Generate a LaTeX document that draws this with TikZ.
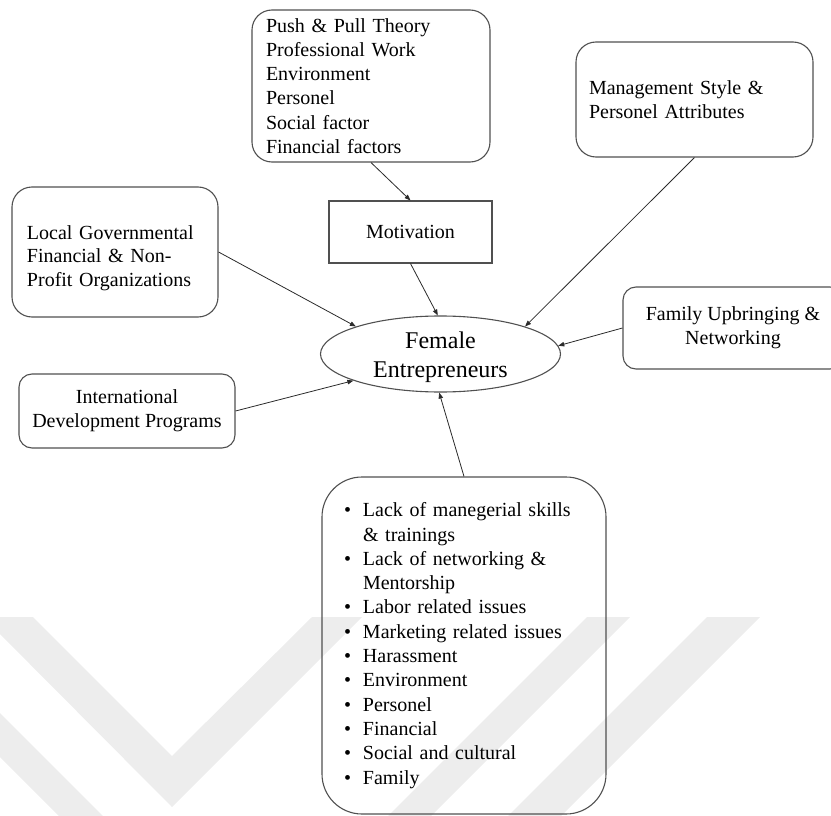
\documentclass[tikz,border=0pt]{standalone}
\usepackage{fontspec}
\setmainfont{Liberation Serif}
\usetikzlibrary{shapes.geometric,arrows.meta}
\definecolor{boxgrey}{HTML}{505050}
\definecolor{linkgrey}{HTML}{2A2A2A}
\definecolor{wmgrey}{HTML}{EDEDED}
\newcommand{\bulitem}{\makebox[19pt][l]{\textbullet}}
\newcommand{\contline}{\hspace*{19pt}}
\begin{document}
\begin{tikzpicture}[x=1pt,y=-1pt,
  roundbox/.style={draw=boxgrey, line width=1.1pt, rounded corners=#1,
    inner ysep=0pt, font=\fontsize{20}{24.3}\selectfont},
  plainbox/.style={draw=boxgrey, line width=1.1pt,
    font=\fontsize{20}{24.3}\selectfont},
  boxtext/.style={inner sep=0pt, font=\fontsize{20}{23.5}\selectfont},
  link/.style={draw=linkgrey, line width=0.8pt,
    -{Triangle[length=6pt,width=4.5pt]}},
  wmark/.style={fill=wmgrey, draw=none}
]
\useasboundingbox (0,0) rectangle (831,816);

% faint background watermark
\begin{scope}
  \clip (0,0) rectangle (831,816);
  \path[wmark] (-17,617) -- (33,617) -- (172,756) -- (312,617) -- (362,617)
    -- (172,807) -- cycle;
  \path[wmark] (-100,613) -- (245.5,958.5) -- (587,617) -- (630,617)
    -- (245,1002) -- (-100,657) -- cycle;
  \path[wmark] (707,617) -- (760,617) -- (540,837) -- (487,837) -- cycle;
\end{scope}

% boxes
\node (push) [roundbox=20pt, text width=210pt, inner xsep=14pt,
  minimum height=152pt, align=left] at (371,86)
  {Push \& Pull Theory\\Professional Work\\Environment\\Personel\\Social factor\\Financial factors};

\node (mgmt) [roundbox=20pt, text width=211pt, inner xsep=13pt,
  minimum height=115pt, align=left] at (694.5,99.5)
  {Management Style \&\\Personel Attributes};

\node (local) [roundbox=20pt, minimum width=206pt, minimum height=130pt]
  at (115,252) {};
\node (localtext) [boxtext, text width=176pt, align=left]
  at ([yshift=-6pt]local.center)
  {Local Governmental\\Financial \& Non-\\Profit Organizations};

\node (mot) [plainbox, minimum width=163pt, minimum height=62pt] at (410.5,232)
  {Motivation};

\node (fam) [roundbox=13pt, minimum width=220pt, minimum height=82pt,
  align=center] at (733,328)
  {Family Upbringing \&\\Networking};

\node (intl) [roundbox=13pt, minimum width=216pt, minimum height=74pt,
  align=center] at (127,411)
  {International\\Development Programs};

\node (bot) [roundbox=40pt, text width=240pt, inner xsep=22pt,
  minimum height=337pt, align=left] at (464,645.5)
  {\bulitem Lack of manegerial skills\\
   \contline\& trainings\\
   \bulitem Lack of networking \&\\
   \contline Mentorship\\
   \bulitem Labor related issues\\
   \bulitem Marketing related issues\\
   \bulitem Harassment\\
   \bulitem Environment\\
   \bulitem Personel\\
   \bulitem Financial\\
   \bulitem Social and cultural\\
   \bulitem Family};

% central ellipse
\node (fe) [ellipse, draw=boxgrey, line width=1.1pt, minimum width=240pt,
  minimum height=76pt, inner sep=0pt] at (440.5,354) {};
\node (fetext) [font=\fontsize{24}{29}\selectfont, align=center]
  at ([yshift=-3pt]fe.center) {Female\\Entrepreneurs};

% connectors
\draw[link] (push.south) -- (mot.north);
\draw[link] (mot.south) -- (fe.94);
\draw[link] (local.east) -- (fe.162.7);
\draw[link] (intl.east) -- (fe.197);
\draw[link] (mgmt.south) -- (fe.18);
\draw[link] (fam.west) -- (fe.4);
\draw[link] (bot.north) -- (fe.268);
\end{tikzpicture}
\end{document}
